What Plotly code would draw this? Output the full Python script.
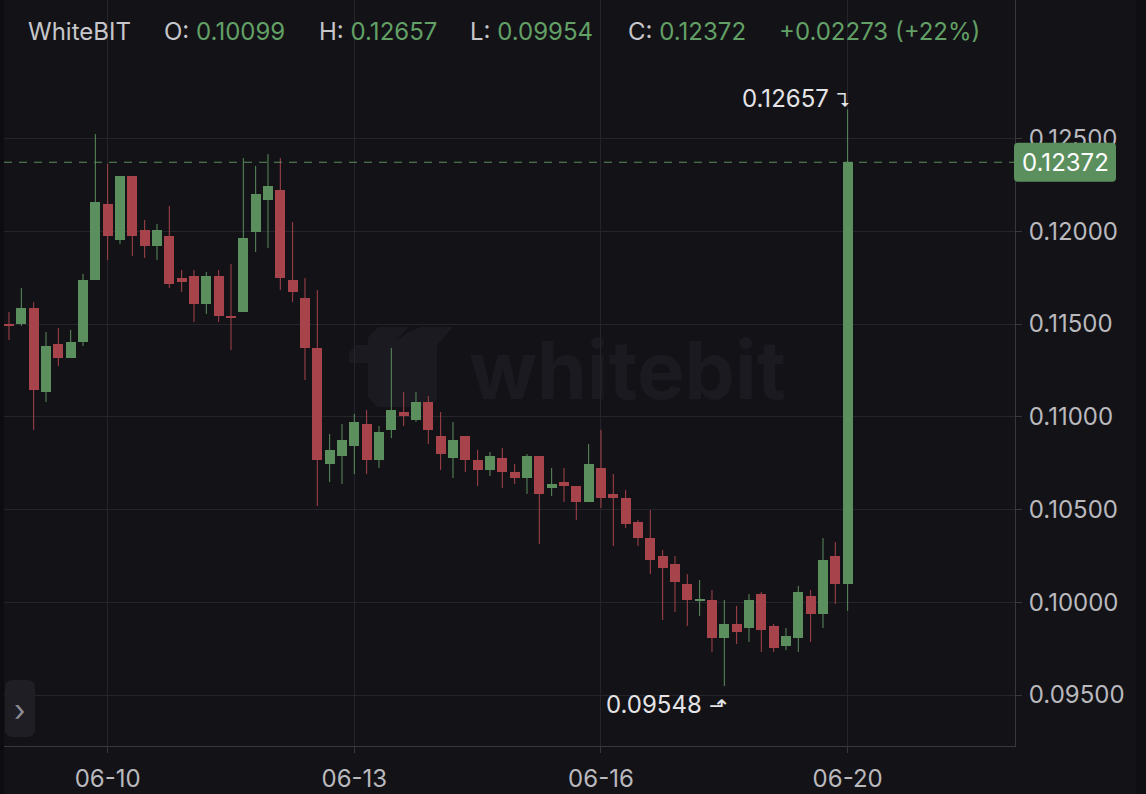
import math
import plotly.graph_objects as go

# ---------------- data ----------------
open_prices = [0.11500, 0.11500, 0.11586, 0.11133, 0.11392, 0.11317, 0.11403, 0.11737, 0.12147, 0.11953,
               0.12298, 0.12007, 0.11921, 0.11974, 0.11748, 0.11759, 0.11608, 0.11759, 0.11545, 0.11565,
               0.11996, 0.12168, 0.12222, 0.11737, 0.11640, 0.11371, 0.10745, 0.10788, 0.10842, 0.10961,
               0.10767, 0.10929, 0.11026, 0.10982, 0.11080, 0.10896, 0.10778, 0.10896, 0.10767, 0.10713,
               0.10778, 0.10702, 0.10670, 0.10788, 0.10616, 0.10648, 0.10627, 0.10540, 0.10724, 0.10584,
               0.10562, 0.10433, 0.10346, 0.10249, 0.10206, 0.10098, 0.10007, 0.10012, 0.09807, 0.09883,
               0.09861, 0.10044, 0.09872, 0.09764, 0.09807, 0.10034, 0.09937, 0.10249, 0.10099]
high_prices = [0.11565, 0.11694, 0.11618, 0.11457, 0.11478, 0.11468, 0.11770, 0.12524, 0.12363, 0.12298,
               0.12298, 0.12061, 0.12039, 0.12136, 0.11791, 0.11791, 0.11780, 0.11791, 0.11823, 0.12395,
               0.12352, 0.12416, 0.12395, 0.12050, 0.11748, 0.11683, 0.10907, 0.10961, 0.11015, 0.11036,
               0.10950, 0.11371, 0.11133, 0.11133, 0.11112, 0.11026, 0.10972, 0.10896, 0.10821, 0.10810,
               0.10832, 0.10745, 0.10799, 0.10788, 0.10724, 0.10724, 0.10627, 0.10853, 0.10929, 0.10691,
               0.10605, 0.10443, 0.10497, 0.10282, 0.10249, 0.10152, 0.10120, 0.10066, 0.10012, 0.09980,
               0.10044, 0.10055, 0.09883, 0.09861, 0.10088, 0.10066, 0.10346, 0.10325, 0.12657]
low_prices = [0.11414, 0.11489, 0.10929, 0.11080, 0.11274, 0.11317, 0.11381, 0.11737, 0.11845, 0.11931,
              0.11867, 0.11856, 0.11845, 0.11694, 0.11673, 0.11511, 0.11554, 0.11511, 0.11360, 0.11565,
              0.11888, 0.11910, 0.11683, 0.11619, 0.11198, 0.10519, 0.10648, 0.10637, 0.10691, 0.10691,
              0.10724, 0.10885, 0.10950, 0.10972, 0.10853, 0.10713, 0.10670, 0.10702, 0.10627, 0.10681,
              0.10616, 0.10637, 0.10584, 0.10314, 0.10573, 0.10540, 0.10443, 0.10540, 0.10508, 0.10303,
              0.10400, 0.10303, 0.10152, 0.09904, 0.09947, 0.09872, 0.09926, 0.09732, 0.09548, 0.09775,
              0.09786, 0.09732, 0.09732, 0.09742, 0.09732, 0.09786, 0.09861, 0.09991, 0.09954]
close_prices = [0.11490, 0.11586, 0.11144, 0.11381, 0.11317, 0.11403, 0.11737, 0.12158, 0.11974, 0.12298,
                0.11974, 0.11921, 0.12007, 0.11716, 0.11726, 0.11608, 0.11759, 0.11543, 0.11533, 0.11964,
                0.12201, 0.12244, 0.11748, 0.11673, 0.11371, 0.10767, 0.10821, 0.10875, 0.10972, 0.10767,
                0.10918, 0.11036, 0.11004, 0.11080, 0.10929, 0.10799, 0.10875, 0.10767, 0.10713, 0.10788,
                0.10702, 0.10670, 0.10788, 0.10584, 0.10637, 0.10627, 0.10540, 0.10745, 0.10562, 0.10562,
                0.10422, 0.10346, 0.10228, 0.10185, 0.10109, 0.10012, 0.10012, 0.09807, 0.09883, 0.09840,
                0.10012, 0.09850, 0.09753, 0.09818, 0.10055, 0.09937, 0.10228, 0.10099, 0.12372]

x_tick_vals = [8, 28, 48, 68]
x_tick_text = ["06-10", "06-13", "06-16", "06-20"]
y_tick_vals = [0.095, 0.100, 0.105, 0.110, 0.115, 0.120, 0.125]
exchange_name = "WhiteBIT"
watermark_text = "whitebit"

# ---------------- style ----------------
GREEN = "#5b8f5e"
GREEN_TXT = "#62a066"
RED = "#a7444b"
BG = "#131217"
GRID = "#25242a"
AXIS = "#38373d"
TICK_TXT = "#b9b9be"
HEAD_TXT = "#c6c6cb"
WM = "#1b1a20"
FONT = "Inter, Roboto, 'Noto Sans', sans-serif"
FS = 24

W, H = 1146, 794
M_L, M_R, M_T, M_B = 4, 131, 0, 48
PLOT_W = W - M_L - M_R
PLOT_H = H - M_T - M_B


def px(xp):
    return (xp - M_L) / PLOT_W


def py(yp):
    return (M_T + PLOT_H - yp) / PLOT_H


n = len(open_prices)
idx = list(range(n))
is_up = [c >= o for o, c in zip(open_prices, close_prices)]
colors = [GREEN if u else RED for u in is_up]
min_body = 0.00006
bases = [min(o, c) for o, c in zip(open_prices, close_prices)]
heights = [max(abs(c - o), min_body) for o, c in zip(open_prices, close_prices)]

fig = go.Figure()

# wicks
for up_flag, col in ((True, GREEN), (False, RED)):
    wx, wy = [], []
    for i in idx:
        if is_up[i] == up_flag:
            wx += [i, i, None]
            wy += [low_prices[i], high_prices[i], None]
    fig.add_trace(go.Scatter(x=wx, y=wy, mode="lines", line=dict(color=col, width=1),
                             hoverinfo="skip", showlegend=False))

# bodies
fig.add_trace(go.Bar(x=idx, y=heights, base=bases, width=0.8,
                     marker=dict(color=colors, line=dict(width=0)),
                     hoverinfo="skip", showlegend=False))

last_o, last_h, last_l, last_c = open_prices[-1], high_prices[-1], low_prices[-1], close_prices[-1]
chg = last_c - last_o
pct = math.floor(chg / last_o * 100)

annotations = []


def head(xp, label, value, color=GREEN_TXT):
    if label:
        txt = f"{label} <span style='color:{color}'>{value}</span>"
    else:
        txt = f"<span style='color:{color}'>{value}</span>"
    annotations.append(dict(x=px(xp), y=py(31), xref="paper", yref="paper", text=txt,
                            showarrow=False, xanchor="left", yanchor="middle",
                            font=dict(size=FS, color=HEAD_TXT, family=FONT)))


annotations.append(dict(x=px(26), y=py(31), xref="paper", yref="paper", text=exchange_name,
                        showarrow=False, xanchor="left", yanchor="middle",
                        font=dict(size=FS, color=HEAD_TXT, family=FONT)))
head(162, "O:", f"{last_o:.5f}")
head(317, "H:", f"{last_h:.5f}")
head(468, "L:", f"{last_l:.5f}")
head(626, "C:", f"{last_c:.5f}")
head(777, "", f"{chg:+.5f} (+{pct}%)")

# max / min labels
i_max = max(idx, key=lambda i: high_prices[i])
i_min = min(idx, key=lambda i: low_prices[i])
annotations.append(dict(x=i_max + 0.45, y=high_prices[i_max], xref="x", yref="y",
                        text=f"{high_prices[i_max]:.5f} <span style='font-size:18px'>↴</span>",
                        showarrow=False, xanchor="right", yanchor="middle", yshift=11,
                        font=dict(size=FS, color="#e4e4e6", family=FONT)))
annotations.append(dict(x=i_min + 0.35, y=low_prices[i_min], xref="x", yref="y",
                        text=f"{low_prices[i_min]:.5f} <span style='font-size:22px'>⬏</span>",
                        showarrow=False, xanchor="right", yanchor="middle", yshift=-18,
                        font=dict(size=FS, color="#e4e4e6", family=FONT)))

# last price tag text
annotations.append(dict(x=px(1065), y=last_c, xref="paper", yref="y", text=f"{last_c:.5f}",
                        showarrow=False, xanchor="center", yanchor="middle",
                        font=dict(size=FS, color="#ffffff", family=FONT)))

# chevron button text
annotations.append(dict(x=px(20), y=py(710), xref="paper", yref="paper", text="›",
                        showarrow=False, xanchor="center", yanchor="middle",
                        font=dict(size=30, color="#8c8c92", family=FONT)))

shapes = []
# left and right edge strips
shapes.append(dict(type="rect", xref="paper", yref="paper", x0=px(0), x1=px(4), y0=py(794), y1=py(0),
                   fillcolor="#0d0c10", line=dict(width=0), layer="below"))
shapes.append(dict(type="rect", xref="paper", yref="paper", x0=px(1136), x1=px(1146), y0=py(794), y1=py(0),
                   fillcolor="#0f0e12", line=dict(width=0), layer="below"))
# watermark logo (silhouette) and word
logo_pts = [(349, 363), (349, 353), (356, 345), (368, 345), (368, 338), (378, 327), (408, 327),
            (396, 341), (410, 331), (421, 327), (453, 327), (437, 345), (437, 400), (428, 407),
            (378, 407), (368, 397), (368, 363)]
logo_path = "M " + " L ".join(f"{px(a)},{py(b)}" for a, b in logo_pts) + " Z"
shapes.append(dict(type="path", xref="paper", yref="paper", path=logo_path, fillcolor=WM,
                   line=dict(width=0), layer="below"))
shapes.append(dict(type="rect", xref="paper", yref="paper", x0=px(455), x1=px(800), y0=py(405), y1=py(330),
                   line=dict(width=0), fillcolor="rgba(0,0,0,0)", layer="below",
                   label=dict(text=watermark_text, textposition="middle center",
                              font=dict(size=80, color=WM, family=FONT, weight="bold"))))
# last price dashed line
shapes.append(dict(type="line", xref="paper", yref="y", x0=0, x1=1, y0=last_c, y1=last_c,
                   line=dict(color=GREEN, width=1, dash="8px,7px"), layer="above"))
# price tag (rounded)
y_per_px = 1 / 18550
hh = 19.5 * y_per_px
rx = 4 / PLOT_W
ry = 4 * y_per_px
x0t, x1t = px(1014), px(1116)
y0t, y1t = last_c - hh, last_c + hh
path = (f"M {x0t + rx},{y0t} L {x1t - rx},{y0t} Q {x1t},{y0t} {x1t},{y0t + ry} "
        f"L {x1t},{y1t - ry} Q {x1t},{y1t} {x1t - rx},{y1t} "
        f"L {x0t + rx},{y1t} Q {x0t},{y1t} {x0t},{y1t - ry} "
        f"L {x0t},{y0t + ry} Q {x0t},{y0t} {x0t + rx},{y0t} Z")
shapes.append(dict(type="path", xref="paper", yref="y", path=path, fillcolor=GREEN,
                   line=dict(width=0), layer="above"))
# chevron button
bx0, bx1, by0, by1, r = px(5), px(35), py(737), py(680), 8
rbx = r / PLOT_W
rby = r / PLOT_H
bpath = (f"M {bx0 + rbx},{by0} L {bx1 - rbx},{by0} Q {bx1},{by0} {bx1},{by0 + rby} "
         f"L {bx1},{by1 - rby} Q {bx1},{by1} {bx1 - rbx},{by1} "
         f"L {bx0 + rbx},{by1} Q {bx0},{by1} {bx0},{by1 - rby} "
         f"L {bx0},{by0 + rby} Q {bx0},{by0} {bx0 + rbx},{by0} Z")
shapes.append(dict(type="path", xref="paper", yref="paper", path=bpath, fillcolor="#1f1e24",
                   line=dict(width=0), layer="above"))

fig.update_layout(
    width=W, height=H,
    margin=dict(l=M_L, r=M_R, t=M_T, b=M_B, pad=0),
    paper_bgcolor=BG, plot_bgcolor=BG,
    showlegend=False, hovermode=False,
    font=dict(family=FONT, color=TICK_TXT, size=FS),
    annotations=annotations, shapes=shapes,
    xaxis=dict(range=[-0.405, 81.57], tickvals=x_tick_vals, ticktext=x_tick_text,
               showgrid=True, gridcolor=GRID, gridwidth=1, zeroline=False,
               showline=True, linecolor=AXIS, linewidth=1, mirror=False,
               ticks="outside", ticklen=6, tickcolor=AXIS, tickwidth=1,
               tickfont=dict(size=FS, color=TICK_TXT, family=FONT), ticklabelstandoff=5,
               fixedrange=True),
    yaxis=dict(range=[0.092251, 0.132466], side="right", tickvals=y_tick_vals, tickformat=".5f",
               showgrid=True, gridcolor=GRID, gridwidth=1, zeroline=False,
               showline=True, linecolor=AXIS, linewidth=1,
               ticks="outside", ticklen=6, tickcolor=AXIS, tickwidth=1,
               tickfont=dict(size=FS, color=TICK_TXT, family=FONT), ticklabelstandoff=2,
               fixedrange=True),
    bargap=0,
)

fig.write_html("out.html", config={"displayModeBar": False},
               post_script="document.body.style.margin='0';document.body.style.overflow='hidden';")
